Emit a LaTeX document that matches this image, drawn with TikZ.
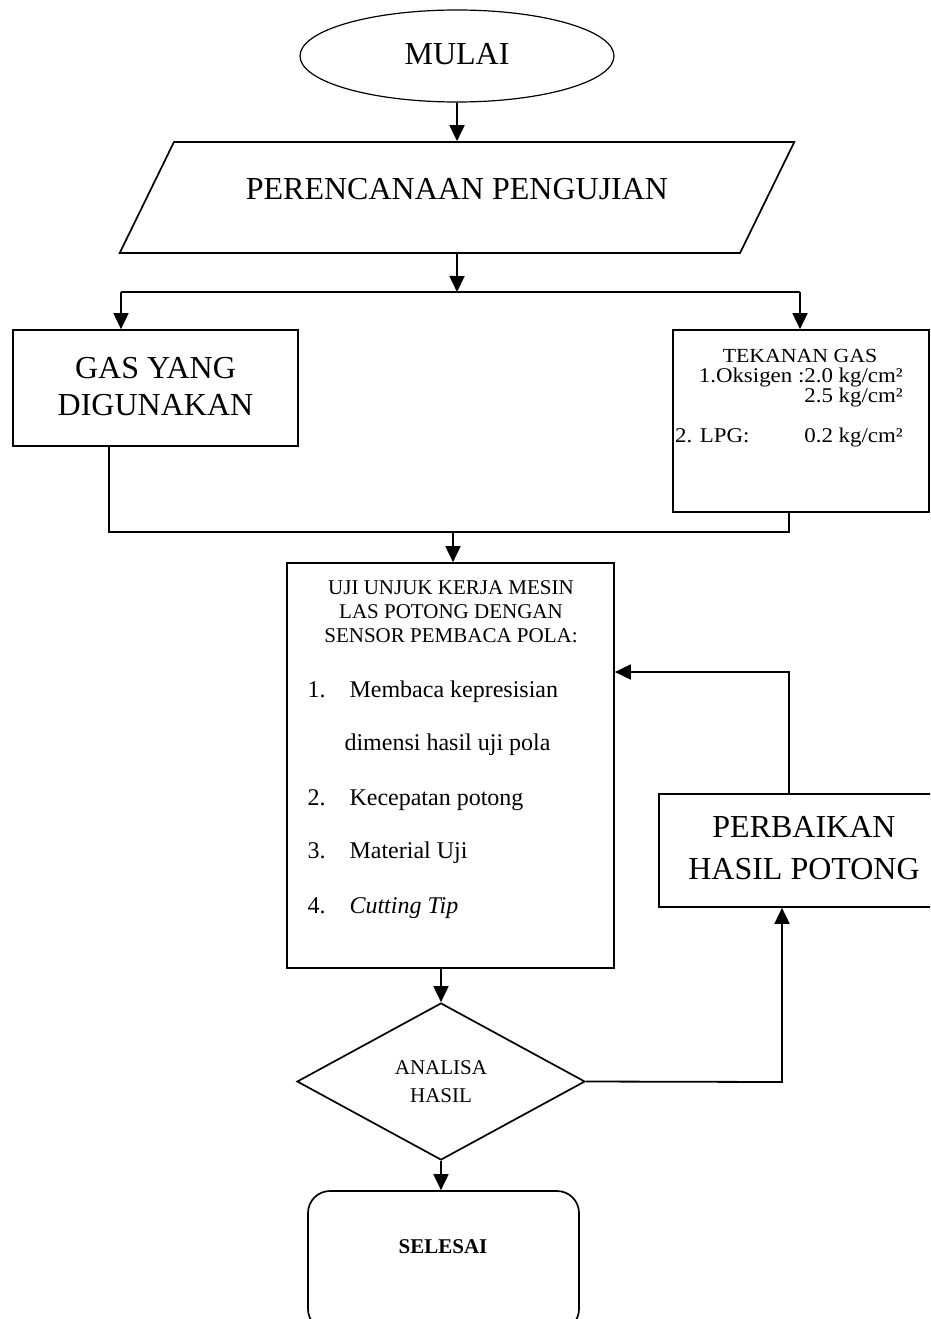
\documentclass[tikz,border=0pt]{standalone}
\usepackage{fontspec}
\setmainfont{Liberation Serif}
\newfontfamily\tekfam[FakeStretch=1.09]{Liberation Serif}
\usetikzlibrary{arrows.meta,positioning,shapes.geometric}

\tikzset{
  box/.style={draw,line width=1.7pt,inner sep=0pt},
  flowarrow/.style={-{Triangle[length=16pt,width=15pt]},line width=1.8pt},
  flowline/.style={line width=1.8pt},
  bigfont/.style={font=\fontsize{32}{37}\selectfont},
  midfont/.style={font=\fontsize{21}{24}\selectfont},
  listfont/.style={font=\fontsize{24}{28}\selectfont},
  tekfont/.style={font=\tekfam\fontsize{21}{24}\selectfont,inner sep=0pt},
}

\begin{document}
\begin{tikzpicture}[x=1pt,y=-1pt]
  \clip (0,0) rectangle (930,1319);
  % shapes
  \node[box,ellipse,line width=1.2pt,minimum width=314,minimum height=92,bigfont,text depth=4pt] (mulai) at (457,56) {MULAI};
  \node[box,trapezium,trapezium left angle=46.6,trapezium right angle=133.4,trapezium stretches=true,
        inner sep=2pt,minimum width=680,minimum height=111,bigfont,text depth=18pt] (plan) at (457,197.5) {PERENCANAAN PENGUJIAN};
  \node[box,minimum width=285,minimum height=116,bigfont,align=center,text depth=4pt] (gas) at (155.5,388) {GAS YANG\\DIGUNAKAN};
  \node[box,minimum width=256,minimum height=182] (tek) at (801,421) {};
  \node[box,minimum width=327,minimum height=405] (uji) at (450.5,765.5) {};
  \node[box,minimum width=290,minimum height=113,align=center,font=\fontsize{32}{42}\selectfont,
        text depth=6pt] (perb) at (804,850.5) {PERBAIKAN\\HASIL POTONG};
  \node[box,diamond,minimum width=288,minimum height=157,align=center,
        font=\fontsize{21}{28}\selectfont] (analisa) at (441,1081.5) {ANALISA\\HASIL};
  \node[box,rounded corners=22pt,minimum width=271,minimum height=140] (selesai) at (443.5,1261) {};
  \node[font=\fontsize{21}{24}\selectfont\bfseries] (selesaitxt) at (443,1247) {SELESAI};

  % tekanan gas
  \node[tekfont,font=\tekfam\fontsize{20}{24}\selectfont,anchor=base] (tekhead) at (800,362) {TEKANAN GAS};
  \node[tekfont,anchor=base east] (oks1) at (903,382) {1.Oksigen :2.0 kg/cm²};
  \node[tekfont,anchor=base east] (oks2) at (903,402) {2.5 kg/cm²};
  \node[tekfont,anchor=base west] (lpg) at (675,442) {2. LPG:};
  \node[tekfont,anchor=base east] (lpgval) at (903,442) {0.2 kg/cm²};

  % uji unjuk kerja
  \node[midfont,align=center] (ujihead) at (451,612) {UJI UNJUK KERJA MESIN\\LAS POTONG DENGAN\\SENSOR PEMBACA POLA:};
  \node[listfont,anchor=base west] (n1) at (304,697) {1.};
  \node[listfont,anchor=base west] (i1) at (346,697) {Membaca kepresisian};
  \node[listfont,anchor=base west] (i1b) at (341,750) {dimensi hasil uji pola};
  \node[listfont,anchor=base west] (n2) at (304,805) {2.};
  \node[listfont,anchor=base west] (i2) at (346,805) {Kecepatan potong};
  \node[listfont,anchor=base west] (n3) at (304,858) {3.};
  \node[listfont,anchor=base west] (i3) at (346,858) {Material Uji};
  \node[listfont,anchor=base west] (n4) at (304,913) {4.};
  \node[listfont,anchor=base west] (i4) at (346,913) {\itshape Cutting Tip};

  % junctions
  \coordinate (splitM) at (457,292);
  \coordinate (splitL) at (121,292);
  \coordinate (splitR) at (800,292);
  \coordinate (joinL) at (109,532);
  \coordinate (joinR) at (789,532);
  \coordinate (joinM) at (453,532);
  \coordinate (fbk) at (789,672);
  \coordinate (dec) at (782,1082);

  % connectors
  \draw[flowarrow] (mulai) -- (plan);
  \draw[flowarrow] (plan.south) -- (splitM);
  \draw[flowline] (splitL) -- (splitR);
  \draw[flowarrow] (splitL) -- (gas.north -| splitL);
  \draw[flowarrow] (splitR) -- (tek.north -| splitR);
  \draw[flowline] (gas.south -| joinL) -- (joinL) -- (joinR) -- (tek.south -| joinR);
  \draw[flowarrow] (joinM) -- (uji.north -| joinM);
  \draw[flowarrow] (uji.south -| analisa.north) -- (analisa.north);
  \draw[flowarrow] (analisa.south) -- (selesai.north -| analisa.south);
  \draw[flowarrow] (analisa.east) -- (dec) -- (perb.south -| dec);
  \draw[flowarrow] (perb.north -| fbk) -- (fbk) -- (uji.east |- fbk);
\end{tikzpicture}
\end{document}
